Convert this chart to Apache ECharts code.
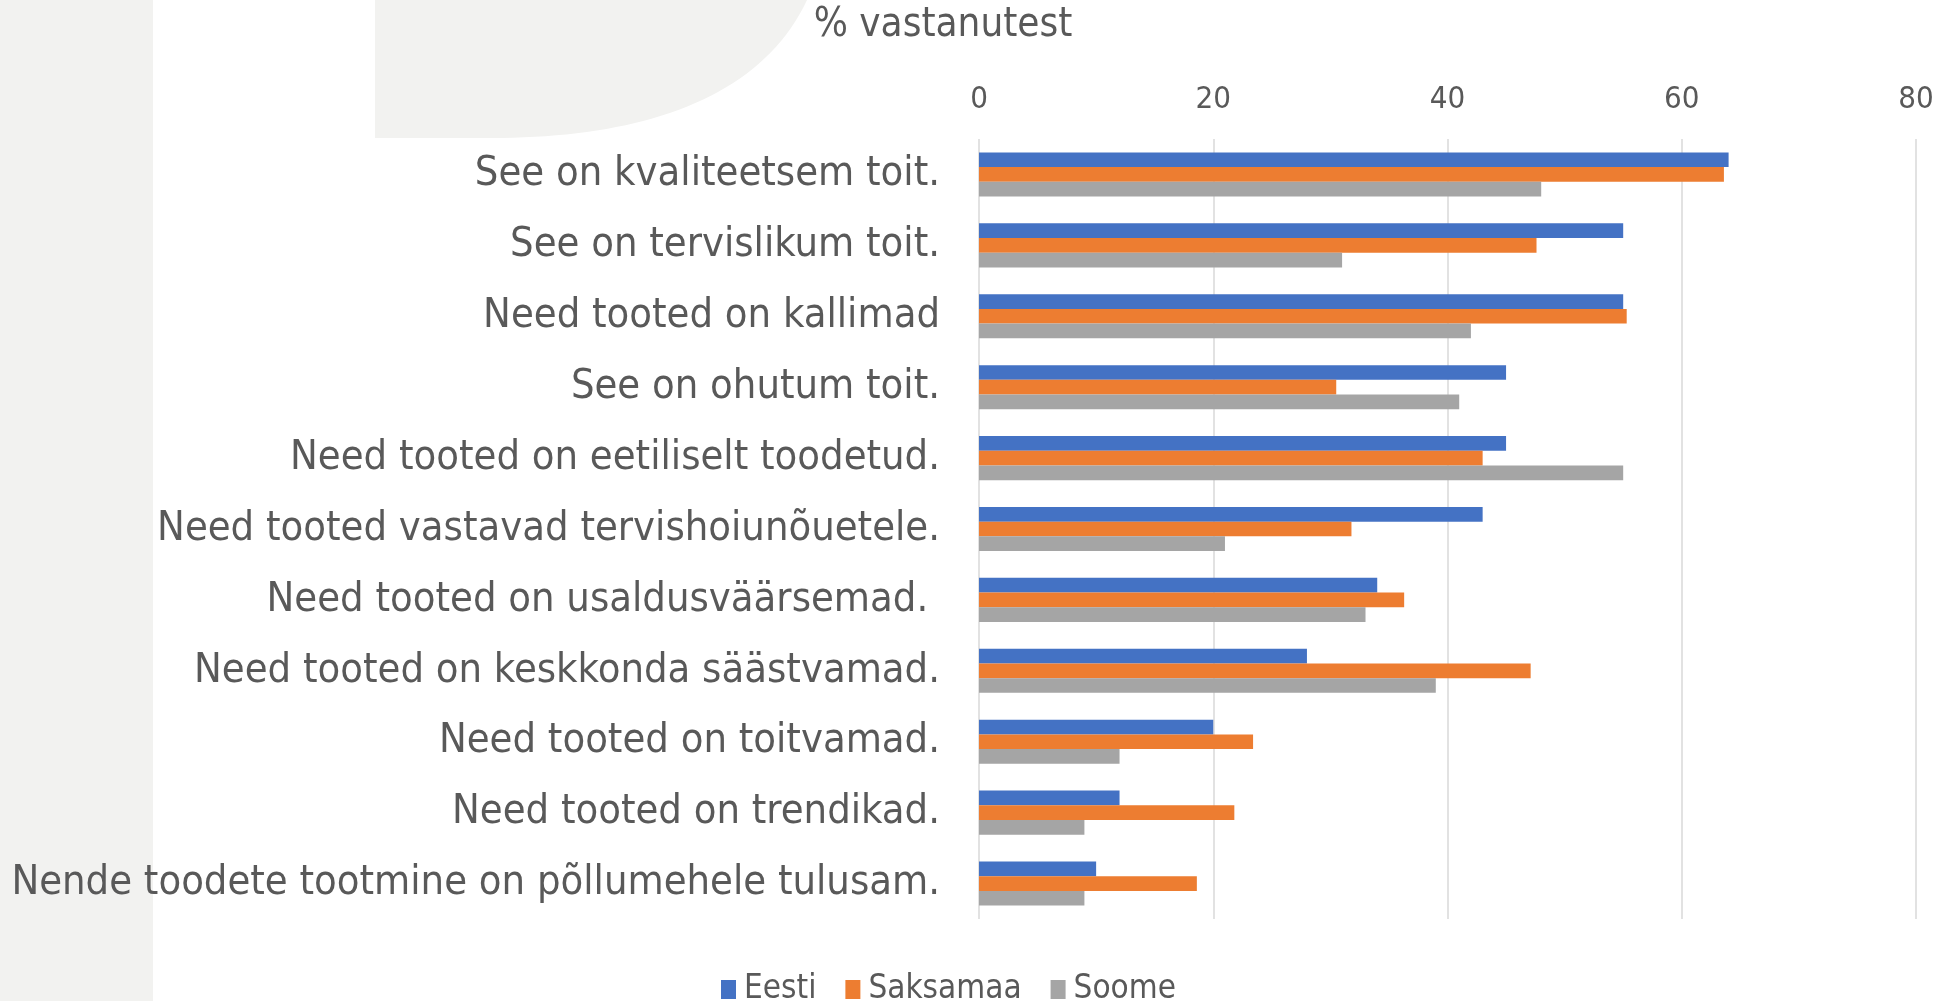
<!DOCTYPE html>
<html><head><meta charset="utf-8">
<script src="https://cdn.jsdelivr.net/npm/echarts@6/dist/echarts.min.js"></script>
<style>html,body{margin:0;padding:0;background:#fff}#c{width:1947px;height:1001px}</style>
</head><body><div id="c"></div>
<script>
const categories = [
  "See on kvaliteetsem toit.",
  "See on tervislikum toit.",
  "Need tooted on kallimad",
  "See on ohutum toit.",
  "Need tooted on eetiliselt toodetud.",
  "Need tooted vastavad tervishoiunõuetele.",
  "Need tooted on usaldusväärsemad. ",
  "Need tooted on keskkonda säästvamad.",
  "Need tooted on toitvamad.",
  "Need tooted on trendikad.",
  "Nende toodete tootmine on põllumehele tulusam."
];
const eesti    = [64, 55, 55, 45, 45, 43, 34, 28, 20, 12, 10];
const saksamaa = [63.6, 47.6, 55.3, 30.5, 43, 31.8, 36.3, 47.1, 23.4, 21.8, 18.6];
const soome    = [48, 31, 42, 41, 55, 21, 33, 39, 12, 9, 9];
const xTicks = [0, 20, 40, 60, 80];
const axisTitle = "% vastanutest";
const seriesNames = ["Eesti", "Saksamaa", "Soome"];

const FONT = "DejaVu Sans Condensed";
const TXT = "#595959";

// decorative background blob (outline points)
function blobPoints() {
  const pts = [[375, 0], [375, 138]];
  const p0 = [491, 138], p1 = [640, 138], p2 = [760, 100], p3 = [807, 0];
  for (let i = 0; i <= 40; i++) {
    const t = i / 40, u = 1 - t;
    pts.push([
      u*u*u*p0[0] + 3*u*u*t*p1[0] + 3*u*t*t*p2[0] + t*t*t*p3[0],
      u*u*u*p0[1] + 3*u*u*t*p1[1] + 3*u*t*t*p2[1] + t*t*t*p3[1]
    ]);
  }
  return pts;
}

const chart = echarts.init(document.getElementById('c'));
const mk = (name, data, color) => ({
  name, type: 'bar', data, barWidth: 14.7, barGap: '0%',
  itemStyle: { color }, silent: true
});
chart.setOption({
  animation: false,
  textStyle: { fontFamily: FONT },
  graphic: [
    { type: 'rect', z: -10, shape: { x: 0, y: 0, width: 153, height: 1001 }, style: { fill: '#F2F2F0' } },
    { type: 'polygon', z: -10, shape: { points: blobPoints() }, style: { fill: '#F2F2F0' } },
    { type: 'text', x: 943, y: 26, style: { text: axisTitle, fill: TXT, fontSize: 40, fontFamily: FONT, textAlign: 'center', textVerticalAlign: 'middle' } }
  ],
  grid: { left: 979, right: 31, top: 139, bottom: 82 },
  legend: {
    data: seriesNames, left: 716, top: 968, itemWidth: 15, itemHeight: 19, itemGap: 29,
    icon: 'rect',
    textStyle: { color: TXT, fontSize: 33, fontFamily: FONT, padding: [0, 0, 0, 3] }
  },
  xAxis: {
    type: 'value', position: 'top', min: 0, max: 80, interval: 20,
    axisLine: { show: false }, axisTick: { show: false },
    splitLine: { lineStyle: { color: '#D9D9D9', width: 1.5 } },
    axisLabel: { color: TXT, fontSize: 31, fontFamily: FONT, margin: 24,
      formatter: v => xTicks.includes(v) ? String(v) : '' }
  },
  yAxis: {
    type: 'category', data: categories, inverse: true,
    axisLine: { show: false }, axisTick: { show: false },
    axisLabel: { color: TXT, fontSize: 41.3, fontFamily: FONT, margin: 39, padding: [5, 0, 0, 0] }
  },
  series: [
    mk(seriesNames[0], eesti, '#4472C4'),
    mk(seriesNames[1], saksamaa, '#ED7D31'),
    mk(seriesNames[2], soome, '#A5A5A5')
  ]
});
</script></body></html>
